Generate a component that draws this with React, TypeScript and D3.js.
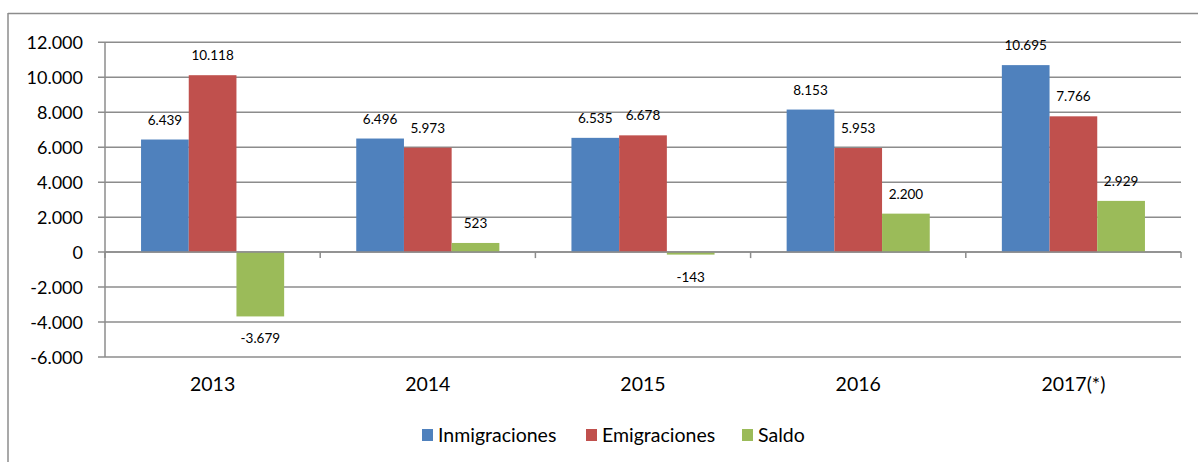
import React from "react";
import * as d3 from "d3";

const categories = ["2013", "2014", "2015", "2016", "2017(*)"];
const seriesNames = ["Inmigraciones", "Emigraciones", "Saldo"];
const inmigraciones = [6439, 6496, 6535, 8153, 10695];
const emigraciones = [10118, 5973, 6678, 5953, 7766];
const saldo = [-3679, 523, -143, 2200, 2929];
const yTicks = [-6000, -4000, -2000, 0, 2000, 4000, 6000, 8000, 10000, 12000];
const colors = ["#4F81BD", "#C0504D", "#9BBB59"];

const W = 1198;
const H = 462;
const FONT = "Lato, 'Open Sans', sans-serif";

const fmt = (v: number) => {
  const s = Math.abs(v).toString().replace(/\B(?=(\d{3})+(?!\d))/g, ".");
  return (v < 0 ? "-" : "") + s;
};

export default function App() {
  const series = [inmigraciones, emigraciones, saldo];
  const left = 105;
  const right = 1181;
  const y = d3.scaleLinear().domain([-6000, 12000]).range([357, 42.3]);
  const x0 = d3.scaleBand().domain(categories).range([left, right]).paddingInner(0).paddingOuter(0);
  const groupW = x0.bandwidth() * 0.665;
  const x1 = d3
    .scaleBand()
    .domain(seriesNames)
    .range([(x0.bandwidth() - groupW) / 2, (x0.bandwidth() + groupW) / 2]);
  const gridColor = "#8c8c8c";
  const legendItems = [
    { name: seriesNames[0], x: 422 },
    { name: seriesNames[1], x: 586 },
    { name: seriesNames[2], x: 742 },
  ];
  return (
    <svg width={W} height={H} style={{ position: "absolute", left: 0, top: 0 }} fontFamily={FONT}>
      <rect x={0} y={0} width={W} height={H} fill="#fff" />
      {/* outer frame */}
      <line x1={8} x2={W} y1={13.5} y2={13.5} stroke={gridColor} strokeWidth={1.5} />
      <line x1={8} x2={8} y1={13} y2={H} stroke={gridColor} strokeWidth={1.5} />
      {/* gridlines */}
      {yTicks.map((t) => (
        <g key={t}>
          <line x1={98} x2={right} y1={y(t)} y2={y(t)} stroke={gridColor} strokeWidth={1.5} />
          <text x={83} y={y(t) + 6.5} textAnchor="end" fontSize={18} fill="#000">
            {fmt(t)}
          </text>
        </g>
      ))}
      {/* y axis */}
      <line x1={left} x2={left} y1={y(12000)} y2={y(-6000)} stroke={gridColor} strokeWidth={1.5} />
      {/* bars */}
      {categories.map((c, i) => (
        <g key={c} transform={`translate(${x0(c)},0)`}>
          {series.map((s, j) => {
            const v = s[i];
            const bx = x1(seriesNames[j])!;
            const bw = x1.bandwidth();
            const top = y(Math.max(0, v));
            const h = Math.abs(y(v) - y(0));
            return (
              <g key={j}>
                <rect x={bx} y={top} width={bw} height={h} fill={colors[j]} />
                <text
                  x={bx + bw / 2}
                  y={v >= 0 ? y(v) - 15 : y(v) + 27}
                  textAnchor="middle"
                  fontSize={13.5}
                  fill="#000"
                >
                  {fmt(v)}
                </text>
              </g>
            );
          })}
          <text x={x0.bandwidth() / 2} y={391} textAnchor="middle" fontSize={19.5} fill="#000">
            {c}
          </text>
        </g>
      ))}
      {/* zero axis with ticks */}
      <line x1={left} x2={right} y1={y(0)} y2={y(0)} stroke={gridColor} strokeWidth={1.5} />
      {[...categories.map((c) => x0(c)!), right].map((tx, k) => (
        <line key={k} x1={tx} x2={tx} y1={y(0)} y2={y(0) + 6} stroke={gridColor} strokeWidth={1.5} />
      ))}
      {/* legend */}
      {legendItems.map((it, k) => (
        <g key={it.name}>
          <rect x={it.x} y={429} width={11} height={12} fill={colors[k]} />
          <text x={it.x + 16} y={441.5} fontSize={19.5} fill="#000">
            {it.name}
          </text>
        </g>
      ))}
    </svg>
  );
}
